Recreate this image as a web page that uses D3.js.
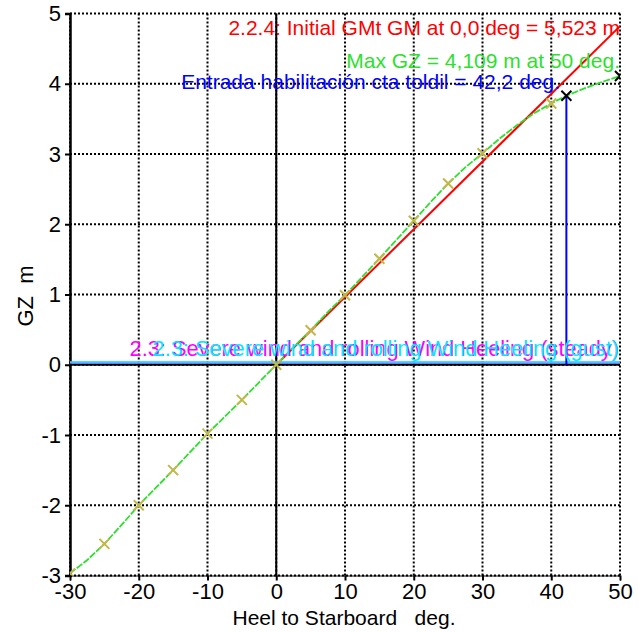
<!DOCTYPE html>
<html><head><meta charset="utf-8">
<script src="https://cdn.jsdelivr.net/npm/d3@7"></script>
<style>body{margin:0;background:#fff}svg{display:block}text{font-family:"Liberation Sans",Arial,sans-serif}</style>
</head><body><svg id="c" width="638" height="632"></svg>
<script>
// GZ curve (heel deg, GZ m)
const heel = [-30,-27.5,-25,-22.5,-20,-17.5,-15,-12.5,-10,-7.5,-5,-2.5,0,2.5,5,7.5,10,12.5,15,17.5,20,22.5,25,27.5,30,32.5,35,37.5,40,42.2,45,47.5,50];
const gz   = [-2.97,-2.78,-2.55,-2.28,-2.0,-1.75,-1.5,-1.24,-0.98,-0.74,-0.5,-0.25,0,0.25,0.49,0.75,0.99,1.25,1.51,1.78,2.05,2.32,2.58,2.81,3.01,3.22,3.41,3.58,3.72,3.83,3.94,4.03,4.11];
// GZ table points marked with crosses
const markHeel = [-30,-25,-20,-15,-10,-5,0,5,10,15,20,25,30,40];
const markGZ   = [-2.97,-2.55,-2.0,-1.5,-0.98,-0.5,0,0.49,0.99,1.51,2.05,2.58,3.01,3.72];
// black crosses: downflooding point and max GZ
const keyHeel = [42.2,50];
const keyGZ = [3.83,4.11];
// initial GM line
const gmValue = 5.523;
const gmHeel = [0,50];
// wind heeling arms
const windSteady = 0.03, windGust = 0.035;
// downflooding angle
const floodAngle = 42.2;
// ticks
const xTicks = [-30,-20,-10,0,10,20,30,40,50];
const yTicks = [-3,-2,-1,0,1,2,3,4,5];
const labels = {
  gm: "2.2.4: Initial GMt GM at 0,0 deg = 5,523 m",
  max: "Max GZ = 4,109 m at 50 deg.",
  flood: "Entrada habilitación cta toldil = 42,2 deg.",
  steady: "2.3: Severe wind and rolling Wind Heeling (steady)",
  gust: "2.3: Severe wind and rolling Wind Heeling (gust)",
  xTitle: "Heel to Starboard   deg.",
  yTitle: "GZ  m"
};

const svg = d3.select("#c");
const x = d3.scaleLinear().domain([-30,50]).range([70,620]);
const y = d3.scaleLinear().domain([-3,5]).range([575.5,13.5]);
const FS = 21;

svg.append("defs").append("clipPath").attr("id","clip")
  .append("rect").attr("x",70).attr("y",13.5).attr("width",550).attr("height",562);

// grid
const grid = svg.append("g");
grid.selectAll(".gx").data(xTicks).join("line")
  .attr("x1",d=>x(d)).attr("x2",d=>x(d)).attr("y1",y(5)).attr("y2",y(-3))
  .attr("stroke","#000").attr("stroke-width",2).attr("stroke-dasharray","2,2");
grid.selectAll(".gy").data(yTicks).join("line")
  .attr("y1",d=>y(d)).attr("y2",d=>y(d)).attr("x1",x(-30)).attr("x2",x(50))
  .attr("stroke","#000").attr("stroke-width",2).attr("stroke-dasharray","2,2");

// axes
const fmt = d => String(d);
const yAxis = svg.append("g").attr("transform",`translate(${x(-30)},0)`)
  .call(d3.axisLeft(y).tickValues(yTicks).tickSize(5).tickPadding(3).tickFormat(fmt));
const xAxis = svg.append("g").attr("transform",`translate(0,${y(-3)})`)
  .call(d3.axisBottom(x).tickValues(xTicks).tickSize(5).tickPadding(3).tickFormat(fmt));
[yAxis,xAxis].forEach(a=>{
  a.selectAll("text").attr("font-size",FS+1).attr("fill","#000").style("font-family","Liberation Sans, Arial, sans-serif");
  a.selectAll("line").attr("stroke","#000").attr("stroke-width",2);
  a.select(".domain").attr("stroke","#000").attr("stroke-width",2.5);
});
xAxis.select(".domain").attr("stroke-width",1);
yAxis.selectAll("text").attr("dx","-1");

// zero lines
svg.append("line").attr("x1",x(0)).attr("x2",x(0)).attr("y1",y(5)).attr("y2",y(-3)).attr("stroke","#000").attr("stroke-width",2);
svg.append("line").attr("x1",x(-30)).attr("x2",x(50)).attr("y1",y(0)).attr("y2",y(0)).attr("stroke","#000").attr("stroke-width",2);

const plot = svg.append("g").attr("clip-path","url(#clip)");

// wind heeling lines
plot.append("line").attr("x1",x(-30)).attr("x2",x(50)).attr("y1",y(windSteady)).attr("y2",y(windSteady)).attr("stroke","#ff00ff").attr("stroke-width",2);
plot.append("line").attr("x1",x(-30)).attr("x2",x(50)).attr("y1",y(windGust)).attr("y2",y(windGust)).attr("stroke","#00e8ff").attr("stroke-width",2);

// GM line
plot.append("path").datum(gmHeel)
  .attr("d",d3.line().x(d=>x(d)).y(d=>y(gmValue*d*Math.PI/180)))
  .attr("fill","none").attr("stroke","#ff0000").attr("stroke-width",2);

// GZ curve
plot.append("path").datum(heel.map((h,i)=>[h,gz[i]]))
  .attr("d",d3.line().x(d=>x(d[0])).y(d=>y(d[1])))
  .attr("fill","none").attr("stroke","#2ee02e").attr("stroke-width",1.8).attr("stroke-dasharray","7,1.5");

// downflooding vertical
plot.append("line").attr("x1",x(floodAngle)).attr("x2",x(floodAngle)).attr("y1",y(0)).attr("y2",y(keyGZ[0]))
  .attr("stroke","#0000ff").attr("stroke-width",2);

function cross(g,data,color){
  const s=5;
  g.selectAll(null).data(data).join("path")
    .attr("d",d=>{const cx=x(d[0]),cy=y(d[1]);return `M${cx-s},${cy-s}L${cx+s},${cy+s}M${cx-s},${cy+s}L${cx+s},${cy-s}`;})
    .attr("stroke",color).attr("stroke-width",2).attr("fill","none");
}
cross(plot, markHeel.map((h,i)=>[h,markGZ[i]]), "#c2b84a");
cross(plot, keyHeel.map((h,i)=>[h,keyGZ[i]]), "#000");

// annotations
function label(t,xx,yy,color,fs){
  svg.append("text").attr("x",xx).attr("y",yy).attr("text-anchor","end").attr("font-size",fs||FS).attr("fill",color).text(t);
}
label(labels.gm,620,35,"#ff0000");
label(labels.max,620,68,"#2ee02e");
label(labels.flood,560,89,"#0000ff");
label(labels.steady,619,356,"#ff00ff",21.8);
label(labels.gust,619,356,"#00e8ff",21.8);

// axis titles
svg.append("text").attr("x",344).attr("y",625).attr("text-anchor","middle").attr("font-size",FS)
  .style("white-space","pre").text(labels.xTitle);
svg.append("text").attr("transform","translate(33,296) rotate(-90)").attr("text-anchor","middle").attr("font-size",FS+1)
  .style("white-space","pre").text(labels.yTitle);
</script></body></html>
